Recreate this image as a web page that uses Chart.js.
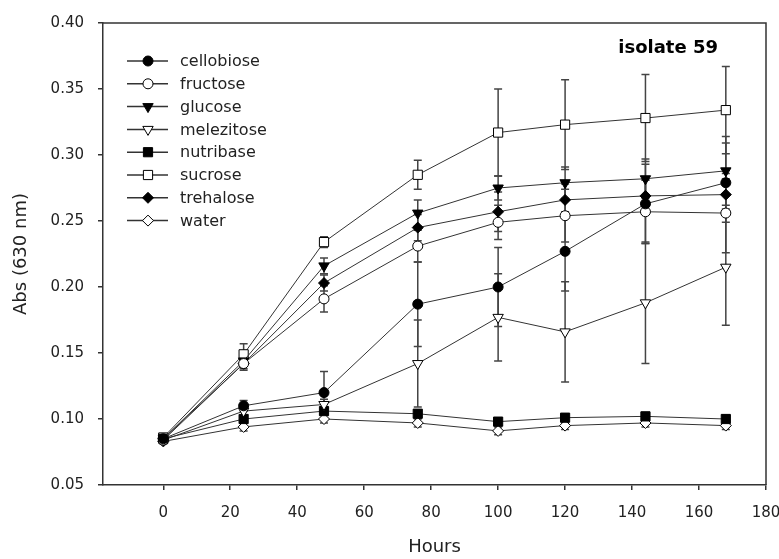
<!DOCTYPE html>
<html>
<head>
<meta charset="utf-8">
<script src="https://cdn.jsdelivr.net/npm/chart.js@4/dist/chart.umd.min.js"></script>
<style>
  html, body { margin: 0; padding: 0; background: #fff; }
  #wrap { width: 779px; height: 559px; }
</style>
</head>
<body>
<div id="wrap"><canvas id="graficoAbs" width="779" height="559"></canvas></div>
<script>
const hours = [0, 24, 48, 76, 100, 120, 144, 168];

const cellobiose = [0.085, 0.110, 0.120, 0.187, 0.200, 0.227, 0.263, 0.279];
const fructose   = [0.084, 0.142, 0.191, 0.231, 0.249, 0.254, 0.257, 0.256];
const glucose    = [0.085, 0.144, 0.216, 0.256, 0.275, 0.279, 0.282, 0.288];
const melezitose = [0.084, 0.106, 0.111, 0.142, 0.177, 0.166, 0.188, 0.215];
const nutribase  = [0.085, 0.100, 0.106, 0.104, 0.098, 0.101, 0.102, 0.100];
const sucrose    = [0.086, 0.149, 0.234, 0.285, 0.317, 0.323, 0.328, 0.334];
const trehalose  = [0.085, 0.142, 0.203, 0.245, 0.257, 0.266, 0.269, 0.270];
const water      = [0.083, 0.094, 0.100, 0.097, 0.091, 0.095, 0.097, 0.095];

// error bars (+/-)
const errCellobiose = [0.002, 0.004, 0.016, 0.032, 0.030, 0.030, 0.030, 0.030];
const errFructose   = [0.002, 0.005, 0.010, 0.012, 0.013, 0.020, 0.024, 0.030];
const errGlucose    = [0.002, 0.004, 0.006, 0.010, 0.009, 0.012, 0.015, 0.026];
const errMelezitose = [0.002, 0.004, 0.004, 0.033, 0.033, 0.038, 0.046, 0.044];
const errNutribase  = [0.002, 0.003, 0.003, 0.003, 0.003, 0.003, 0.003, 0.003];
const errSucrose    = [0.002, 0.008, 0.004, 0.011, 0.033, 0.034, 0.033, 0.033];
const errTrehalose  = [0.002, 0.004, 0.006, 0.010, 0.015, 0.012, 0.012, 0.012];
const errWater      = [0.002, 0.003, 0.003, 0.003, 0.003, 0.003, 0.003, 0.003];

const xTicks = [0, 20, 40, 60, 80, 100, 120, 140, 160, 180];
const yTicks = [0.05, 0.10, 0.15, 0.20, 0.25, 0.30, 0.35, 0.40];

const FONT = "'DejaVu Sans', sans-serif";
const INK = '#222';

function serie(label, values, errors, style, filled, radius, rotation) {
    return {
        label: label,
        data: hours.map((h, i) => ({ x: h, y: values[i] })),
        errors: errors,
        borderColor: '#333',
        borderWidth: 1,
        pointStyle: style,
        pointRotation: rotation || 0,
        pointRadius: radius,
        pointHoverRadius: radius,
        pointBorderColor: '#000',
        pointBackgroundColor: filled ? '#000' : '#fff',
        pointBorderWidth: 1,
        tension: 0,
        fill: false
    };
}

const datasets = [
    serie('cellobiose', cellobiose, errCellobiose, 'circle', true, 5),
    serie('fructose', fructose, errFructose, 'circle', false, 5),
    serie('glucose', glucose, errGlucose, 'triangle', true, 6, 180),
    serie('melezitose', melezitose, errMelezitose, 'triangle', false, 6, 180),
    serie('nutribase', nutribase, errNutribase, 'rect', true, 6.5),
    serie('sucrose', sucrose, errSucrose, 'rect', false, 6.5),
    serie('trehalose', trehalose, errTrehalose, 'rectRot', true, 5.5),
    serie('water', water, errWater, 'rectRot', false, 5.5)
];

// vertical error bars with caps, drawn under the lines
const errorBars = {
    id: 'errorBars',
    beforeDatasetsDraw(chart) {
        let ctx = chart.ctx;
        let xs = chart.scales.x, ys = chart.scales.y;
        ctx.save();
        ctx.strokeStyle = '#444';
        ctx.lineWidth = 1.5;
        chart.data.datasets.forEach(ds => {
            ds.data.forEach((p, i) => {
                let e = ds.errors[i];
                let x = xs.getPixelForValue(p.x);
                let y1 = ys.getPixelForValue(p.y + e);
                let y2 = ys.getPixelForValue(p.y - e);
                ctx.beginPath();
                ctx.moveTo(x, y1); ctx.lineTo(x, y2);
                ctx.moveTo(x - 4, y1); ctx.lineTo(x + 4, y1);
                ctx.moveTo(x - 4, y2); ctx.lineTo(x + 4, y2);
                ctx.stroke();
            });
        });
        ctx.restore();
    }
};

// frame, legend box and panel label
const extras = {
    id: 'extras',
    afterDraw(chart) {
        let ctx = chart.ctx;
        let a = chart.chartArea;
        ctx.save();
        ctx.strokeStyle = '#333';
        ctx.lineWidth = 1.5;
        ctx.beginPath();
        ctx.moveTo(a.left, a.top); ctx.lineTo(a.right, a.top); ctx.lineTo(a.right, a.bottom);
        ctx.stroke();

        // legend: line + marker + text
        ctx.font = '16px ' + FONT;
        ctx.textBaseline = 'middle';
        ctx.textAlign = 'left';
        chart.data.datasets.forEach((ds, i) => {
            let y = 61 + i * 22.8;
            ctx.strokeStyle = '#333';
            ctx.lineWidth = 1.5;
            ctx.beginPath();
            ctx.moveTo(127, y); ctx.lineTo(168, y);
            ctx.stroke();
            ctx.fillStyle = ds.pointBackgroundColor;
            ctx.strokeStyle = '#000';
            ctx.lineWidth = 1;
            Chart.helpers.drawPoint(ctx, {
                pointStyle: ds.pointStyle,
                rotation: ds.pointRotation,
                radius: ds.pointRadius,
                borderWidth: 1
            }, 148, y);
            ctx.fillStyle = INK;
            ctx.fillText(ds.label, 180, y + 1);
        });

        ctx.font = 'bold 18px ' + FONT;
        ctx.textAlign = 'right';
        ctx.textBaseline = 'alphabetic';
        ctx.fillStyle = '#000';
        ctx.fillText('isolate 59', 718, 53);
        ctx.restore();
    }
};

document.addEventListener("DOMContentLoaded", function () {
    let ctx = document.getElementById('graficoAbs').getContext('2d');
    new Chart(ctx, {
        type: 'line',
        data: { datasets: datasets },
        options: {
            responsive: false,
            animation: false,
            layout: { padding: { top: 23, right: 13, left: 0, bottom: 0 } },
            plugins: {
                legend: { display: false },
                tooltip: { enabled: false }
            },
            scales: {
                x: {
                    type: 'linear',
                    min: -18,
                    max: 180,
                    afterBuildTicks: axis => { axis.ticks = xTicks.map(v => ({ value: v })); },
                    afterFit: axis => { axis.height = 74; axis.paddingLeft = 0; axis.paddingRight = 0; },
                    grid: { drawOnChartArea: false, tickLength: 5, color: '#333', lineWidth: 1.5 },
                    border: { color: '#333', width: 1.5 },
                    ticks: {
                        color: INK, font: { family: FONT, size: 15 }, padding: 14,
                        maxRotation: 0, callback: v => v
                    },
                    title: {
                        display: true, text: 'Hours', color: INK,
                        font: { family: FONT, size: 18 }, padding: { top: 0, bottom: 1 }
                    }
                },
                y: {
                    min: 0.05,
                    max: 0.40,
                    afterBuildTicks: axis => { axis.ticks = yTicks.map(v => ({ value: v })); },
                    afterFit: axis => { axis.width = 103; },
                    grid: { drawOnChartArea: false, tickLength: 5, color: '#333', lineWidth: 1.5 },
                    border: { color: '#333', width: 1.5 },
                    ticks: {
                        color: INK, font: { family: FONT, size: 15 }, padding: 14,
                        callback: v => v.toFixed(2)
                    },
                    title: {
                        display: true, text: 'Abs (630 nm)', color: INK,
                        font: { family: FONT, size: 18 }, padding: { top: 11, bottom: 0 }
                    }
                }
            }
        },
        plugins: [errorBars, extras]
    });
});
</script>
</body>
</html>
